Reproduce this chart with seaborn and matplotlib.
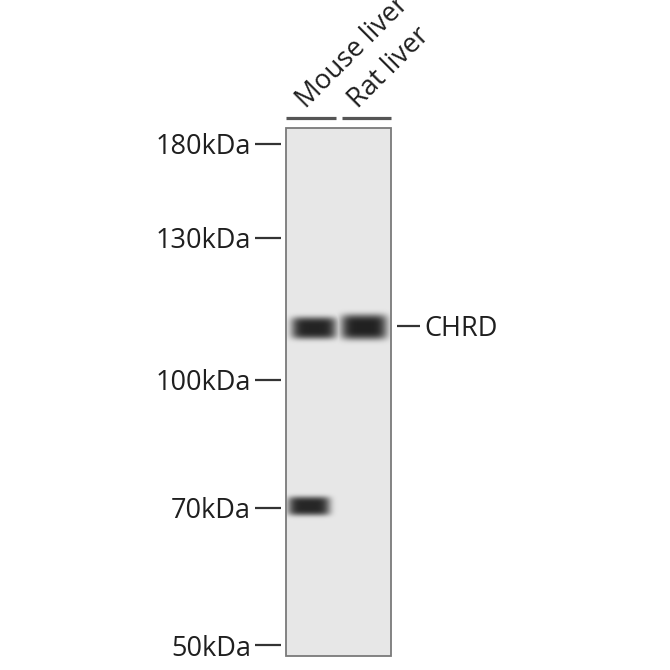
import numpy as np
import matplotlib
matplotlib.use("Agg")
import matplotlib.pyplot as plt
import matplotlib.transforms as mtransforms
from matplotlib.patches import Rectangle
import seaborn as sns

# ---------------- data ----------------
lanes = ["Mouse liver", "Rat liver"]
marker_labels = ["180kDa", "130kDa", "100kDa", "70kDa", "50kDa"]
marker_pos = [16, 110, 252, 380, 517]          # migration distance (blot rows)
band_lane = [0, 1, 0]
band_pos = [200, 199, 378]                     # migration distance of each band
band_x = [28, 78, 23]                          # band centre across the blot
band_width = [45, 46, 42]
band_height = [22, 25, 19]
band_tone = [0.14, 0.13, 0.15]                 # darkest grey level of each band
target_label = "CHRD"
target_pos = 198
background_tone = 0.905

# ---------------- figure ----------------
sns.set_theme(style="white")
plt.rcParams["font.family"] = ["Open Sans", "DejaVu Sans"]
txt_color = "#1f1f1f"
FS = 19.5

blot_w, blot_h = 105, 528
fig = plt.figure(figsize=(6.7, 6.7), dpi=100)
fig.patch.set_facecolor("white")
ax = fig.add_axes([286 / 670, (670 - 656) / 670, blot_w / 670, blot_h / 670])

yy, xx = np.mgrid[0:blot_h, 0:blot_w] + 0.5
img = np.full((blot_h, blot_w), background_tone)
for lane, pos, cx, w, h, tone in zip(band_lane, band_pos, band_x, band_width, band_height, band_tone):
    f = np.exp(-(np.abs(xx - cx) / (w / 2)) ** 5 - (np.abs(yy - pos) / (h / 2)) ** 4)
    img = np.minimum(img, background_tone * (1 - f) + tone * f)

sns.heatmap(img, ax=ax, cmap="gray", vmin=0, vmax=1, cbar=False,
            xticklabels=False, yticklabels=False, rasterized=True)

ax.set_ylim(blot_h, 0)
ax.set_xlim(0, blot_w)
for s in ax.spines.values():
    s.set_visible(False)
ax.spines["left"].set_position(("outward", 3.6))

ax.set_yticks(marker_pos)
ax.set_yticklabels(marker_labels, fontsize=FS, color=txt_color)
ax.tick_params(axis="y", left=True, length=18.7, width=1.6, color="#333333", pad=3.0)
ax.set_xticks([])

ax.add_patch(Rectangle((0, 0), 1, 1, transform=ax.transAxes, fill=False,
                       ec="#7a7a7a", lw=1.3, clip_on=False, zorder=5))

# target label on the right
ax_r = ax.twinx()
ax_r.set_ylim(blot_h, 0)
for s in ax_r.spines.values():
    s.set_visible(False)
ax_r.spines["right"].set_position(("outward", 4.3))
ax_r.set_yticks([target_pos])
ax_r.set_yticklabels([target_label], fontsize=FS, color=txt_color)
ax_r.tick_params(axis="y", right=True, length=16.5, width=1.6, color="#333333", pad=3.4)
ax_r.grid(False)

# lane lines and labels
trans = mtransforms.blended_transform_factory(ax.transData, ax.transAxes)
lane_w = blot_w / len(lanes)
for i, name in enumerate(lanes):
    x0 = i * lane_w + (3 if i > 0 else 0)
    x1 = (i + 1) * lane_w - (3 if i < len(lanes) - 1 else 0)
    ax.plot([x0, x1], [1 + 10 / blot_h] * 2, transform=trans, color="#555555",
            lw=2.3, solid_capstyle="butt", clip_on=False)
    ax.text(i * lane_w + 20, 1 + 19 / blot_h, name, transform=trans, rotation=45,
            rotation_mode="anchor", ha="left", va="baseline", fontsize=FS, color=txt_color)

fig.savefig("out.png", dpi=100)
